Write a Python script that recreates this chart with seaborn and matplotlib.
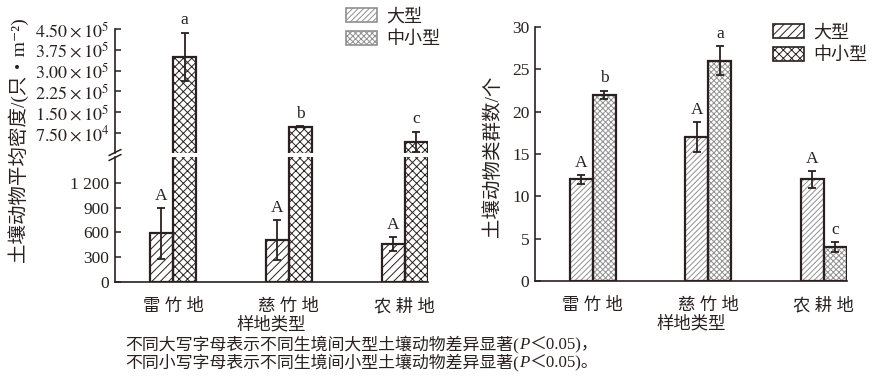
import matplotlib
matplotlib.use('Agg')
import matplotlib.pyplot as plt
import pandas as pd
import seaborn as sns
from matplotlib.patches import Patch

sns.set_theme(style='ticks')
plt.rcParams['font.family'] = ['Liberation Serif', 'Noto Sans CJK SC', 'DejaVu Serif']
plt.rcParams['mathtext.fontset'] = 'stix'
plt.rcParams['hatch.linewidth'] = 0.7

# Data
sites = ['雷竹地', '慈竹地', '农耕地']
types = ['大型', '中小型']

density_large = [590, 510, 460]
density_large_err = [310, 240, 80]
density_small = [349000, 97000, 44000]
density_small_err = [88000, 2000, 36000]

groups_large = [12, 17, 12]
groups_large_err = [0.5, 1.8, 1.0]
groups_small = [22, 26, 4]
groups_small_err = [0.5, 1.7, 0.6]

letters_large = ['A', 'A', 'A']
letters_density_small = ['a', 'b', 'c']
letters_groups_small = ['b', 'a', 'c']

upper_ticks = [75000, 150000, 225000, 300000, 375000, 450000]
upper_labels = [r'$7.50\times10^{4}$', r'$1.50\times10^{5}$', r'$2.25\times10^{5}$',
                r'$3.00\times10^{5}$', r'$3.75\times10^{5}$', r'$4.50\times10^{5}$']
lower_ticks = [0, 300, 600, 900, 1200]
lower_labels = ['0', '300', '600', '900', '1 200']

df_density = pd.DataFrame({
    'site': sites * 2,
    'type': [types[0]] * 3 + [types[1]] * 3,
    'value': density_large + density_small,
    'err': density_large_err + density_small_err,
})
df_groups = pd.DataFrame({
    'site': sites * 2,
    'type': [types[0]] * 3 + [types[1]] * 3,
    'value': groups_large + groups_small,
    'err': groups_large_err + groups_small_err,
})

INK = '#2a2020'
W, H = 876, 379
fig = plt.figure(figsize=(W / 100, H / 100), dpi=100)


def fig_rect(x0, y0, x1, y1):
    return [x0 / W, 1 - y1 / H, (x1 - x0) / W, (y1 - y0) / H]


ax_up = fig.add_axes(fig_rect(115, 29, 428, 153))
ax_lo = fig.add_axes(fig_rect(115, 157, 428, 282))
ax_r = fig.add_axes(fig_rect(535, 27, 847, 281))


def draw_bars(ax, data, hatches, hatch_color, letters_big, letters_small, skip_large=False):
    # hatched fill first, then dark outline on top
    sns.barplot(data=data, x='site', y='value', hue='type', hue_order=types,
                order=sites, ax=ax, width=0.4, errorbar=None,
                palette=['white', 'white'], edgecolor=hatch_color, linewidth=0,
                legend=False)
    n = len(sites)
    for i, p in enumerate(ax.patches):
        p.set_hatch(hatches[i // n])
    sns.barplot(data=data, x='site', y='value', hue='type', hue_order=types,
                order=sites, ax=ax, width=0.4, errorbar=None, fill=False,
                palette=[INK, INK], linewidth=1.6, legend=False)
    for i, p in enumerate(ax.patches[:2 * n]):
        if skip_large and i < n:
            p.set_visible(False)
            ax.patches[2 * n + i].set_visible(False)
            continue
        row = data.iloc[i]
        xc = p.get_x() + p.get_width() / 2
        ax.errorbar(xc, row['value'], yerr=row['err'], fmt='none', ecolor=INK,
                    elinewidth=1.3, capsize=3, capthick=1.3, zorder=5)
        lab = (letters_big if i < n else letters_small)[i % n]
        ax.annotate(lab, (xc, row['value'] + row['err']), xytext=(0, 3),
                    textcoords='offset points', ha='center', va='bottom',
                    fontsize=12.5, color=INK, annotation_clip=True)


draw_bars(ax_up, df_density, ['////', 'xxxx'], INK, letters_large, letters_density_small,
          skip_large=True)
draw_bars(ax_lo, df_density, ['////', 'xxxx'], INK, letters_large, letters_density_small)
draw_bars(ax_r, df_groups, ['//////', 'xxxxxx'], '#909090', letters_large, letters_groups_small)

for ax in (ax_up, ax_lo, ax_r):
    ax.set_xlim(-0.5, 2.2)
    ax.set_xlabel('')
    ax.set_ylabel('')
    for s in ('top', 'right'):
        ax.spines[s].set_visible(False)
    for s in ('left', 'bottom'):
        ax.spines[s].set_color(INK)
        ax.spines[s].set_linewidth(1.2)
    ax.tick_params(axis='y', direction='in', length=4, width=1.1, color=INK,
                   labelsize=12.5, labelcolor=INK, pad=4)
    ax.tick_params(axis='x', length=0, labelsize=12.5, labelcolor=INK, pad=12)
    ax.set_facecolor('none')

ax_up.set_ylim(2900, 450000)
ax_up.set_yticks(upper_ticks, upper_labels)
ax_up.tick_params(axis='y', labelsize=13)
ax_up.spines['bottom'].set_visible(False)
ax_up.tick_params(axis='x', labelbottom=False)

ax_lo.set_ylim(0, 1515)
ax_lo.set_yticks(lower_ticks, lower_labels)

ax_r.set_ylim(0, 30)
ax_r.set_yticks([0, 5, 10, 15, 20, 25, 30])

for ax in (ax_lo, ax_r):
    ax.set_xticks(range(len(sites)), [' '.join(s) for s in sites])
    ax.set_xlabel('样地类型', fontsize=12.5, color=INK, labelpad=1)

# axis break marks
for yy in (152.5, 157.5):
    fig.add_artist(plt.Line2D([109 / W, 121 / W], [1 - (yy + 3) / H, 1 - (yy - 3) / H],
                              color=INK, lw=1.1))

fig.text(18 / W, 1 - 140 / H, '土壤动物平均密度/(只・m⁻²)', rotation=90,
         ha='center', va='center', fontsize=14, color=INK)
fig.text(493 / W, 1 - 156 / H, '土壤动物类群数/个', rotation=90,
         ha='center', va='center', fontsize=14, color=INK)

# legends (left panel shows the light swatches, right panel the dark ones)
light = [Patch(facecolor='white', edgecolor='#909090', hatch='//////'),
         Patch(facecolor='white', edgecolor='#909090', hatch='xxxxxx')]
dark = [Patch(facecolor='white', edgecolor=INK, hatch='////'),
        Patch(facecolor='white', edgecolor=INK, hatch='xxxx')]
for handles, x0, y0 in ((light, 330, -8), (dark, 757, 8)):
    for h in handles:
        h.set_linewidth(1.2)
    leg = fig.legend(handles, types, loc='upper left',
                     bbox_to_anchor=(x0 / W, 1 - y0 / H), frameon=False,
                     fontsize=13, handlelength=1.7, handleheight=0.8,
                     handletextpad=0.5, labelspacing=0.3)
    for t in leg.get_texts():
        t.set_color(INK)

# footnote, written piece by piece so P can be italic
renderer = fig.canvas.get_renderer()


def write_line(x, y, pieces):
    for txt, style in pieces:
        t = fig.text(x / W, 1 - y / H, txt, fontsize=12.2, color=INK, va='baseline',
                     style=style)
        x = t.get_window_extent(renderer).x1


write_line(125, 349, [('不同大写字母表示不同生境间大型土壤动物差异显著(', 'normal'),
                      ('P', 'italic'), ('＜0.05)，', 'normal')])
write_line(125, 367, [('不同小写字母表示不同生境间小型土壤动物差异显著(', 'normal'),
                      ('P', 'italic'), ('＜0.05)。', 'normal')])

fig.savefig('out.png', dpi=100)
